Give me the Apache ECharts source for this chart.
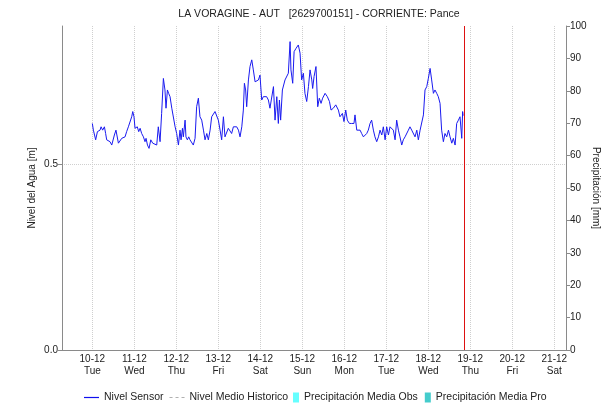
<!DOCTYPE html>
<html>
<head>
<meta charset="utf-8">
<script src="https://cdn.jsdelivr.net/npm/echarts@6/dist/echarts.min.js"></script>
<style>
  html, body { margin: 0; padding: 0; background: #fff; }
  #chart { width: 609px; height: 403px; }
</style>
</head>
<body>
<div id="chart"></div>
<script>
// Station header
const titleText = 'LA VORAGINE - AUT   [2629700151] - CORRIENTE: Pance';

// Time window (UTC) and day ticks
const viewStart = '2024-12-09T06:40:00Z';
const viewEnd = '2024-12-21T06:40:00Z';
const nowMark = '2024-12-18T20:48:00Z';
const seriesOrigin = '2024-12-10T00:00:00Z';
const dayTicks = ['2024-12-10', '2024-12-11', '2024-12-12', '2024-12-13', '2024-12-14', '2024-12-15',
                  '2024-12-16', '2024-12-17', '2024-12-18', '2024-12-19', '2024-12-20', '2024-12-21'];
const weekdayNames = ['Sun', 'Mon', 'Tue', 'Wed', 'Thu', 'Fri', 'Sat'];

// Left axis ticks (m)
const levelTicks = [0, 0.5];

// Sensor level: hours after seriesOrigin, water level in metres
const sensorHours = [
  0.0, 0.6, 1.9, 2.9, 4.4, 5.0, 5.9, 6.9, 7.6, 8.2, 10.1, 11.1, 12.6, 13.5, 14.9, 16.8, 17.7, 18.7, 19.6, 20.6,
  21.5, 22.5, 23.1, 23.8, 24.4, 25.7, 26.5, 27.3, 28.2, 29.2, 30.1, 30.7, 31.5, 32.4, 33.4, 34.5, 35.5, 36.8, 37.7, 38.7,
  39.6, 40.6, 41.5, 42.1, 42.9, 43.6, 44.4, 45.4, 46.3, 47.3, 48.2, 49.2, 50.1, 50.7, 51.5, 52.0, 53.0, 53.5, 54.3, 55.1,
  55.8, 56.8, 57.7, 58.7, 59.6, 60.6, 61.5, 62.5, 63.5, 64.4, 65.4, 66.3, 67.3, 68.2, 69.2, 70.1, 71.1, 72.0, 73.0, 73.9,
  74.9, 75.8, 76.8, 77.7, 78.7, 79.6, 80.6, 81.5, 82.5, 83.5, 84.4, 85.4, 86.3, 86.9, 87.6, 88.2, 89.2, 90.1, 91.1, 92.0,
  93.0, 93.9, 94.9, 95.8, 96.8, 97.7, 99.6, 100.6, 101.5, 102.5, 103.5, 104.4, 105.4, 106.3, 106.9, 107.6, 108.6, 110.1, 111.1, 112.0,
  113.0, 113.5, 114.5, 115.3, 116.4, 117.7, 118.7, 119.6, 120.6, 121.5, 122.5, 123.5, 124.4, 125.4, 125.9, 126.7, 127.8, 128.8, 129.7, 130.7,
  131.6, 133.0, 134.3, 135.5, 136.4, 137.7, 139.1, 140.6, 141.5, 142.9, 143.8, 144.8, 145.7, 146.9, 148.2, 149.5, 150.1, 151.1, 152.0, 153.0,
  153.9, 154.9, 155.8, 156.8, 157.7, 158.7, 159.6, 160.6, 161.5, 162.5, 163.5, 164.4, 165.4, 166.3, 167.3, 168.2, 169.2, 170.1, 171.1, 172.0,
  173.0, 173.9, 174.9, 175.8, 176.8, 177.7, 178.7, 179.6, 180.6, 181.5, 182.5, 183.5, 184.4, 185.4, 186.3, 187.3, 188.2, 189.2, 190.1, 191.1,
  192.0, 193.0, 193.9, 194.9, 195.8, 196.8, 197.7, 198.7, 199.6, 200.6, 201.5, 202.5, 203.5, 204.4, 205.4, 206.3, 207.3, 208.2, 209.2, 210.1,
  211.1, 211.6, 211.9
];
const sensorLevel = [
  0.609, 0.591, 0.565, 0.587, 0.591, 0.600, 0.591, 0.600, 0.582, 0.565, 0.560, 0.551, 0.578, 0.591, 0.556, 0.569, 0.565, 0.573, 0.587, 0.600,
  0.600, 0.627, 0.641, 0.627, 0.596, 0.600, 0.587, 0.596, 0.582, 0.573, 0.560, 0.569, 0.551, 0.542, 0.565, 0.556, 0.551, 0.551, 0.600, 0.560,
  0.636, 0.730, 0.699, 0.650, 0.699, 0.690, 0.681, 0.650, 0.645, 0.600, 0.582, 0.551, 0.591, 0.565, 0.596, 0.573, 0.618, 0.573, 0.565, 0.573,
  0.565, 0.560, 0.551, 0.569, 0.654, 0.677, 0.627, 0.618, 0.591, 0.565, 0.582, 0.565, 0.591, 0.627, 0.623, 0.641, 0.641, 0.618, 0.591, 0.565,
  0.627, 0.573, 0.573, 0.596, 0.600, 0.582, 0.600, 0.596, 0.600, 0.591, 0.573, 0.600, 0.645, 0.717, 0.699, 0.654, 0.726, 0.762, 0.780, 0.753,
  0.721, 0.726, 0.726, 0.739, 0.672, 0.681, 0.681, 0.672, 0.650, 0.650, 0.708, 0.618, 0.681, 0.609, 0.672, 0.618, 0.699, 0.726, 0.730, 0.744,
  0.829, 0.753, 0.717, 0.802, 0.811, 0.820, 0.798, 0.726, 0.744, 0.690, 0.668, 0.708, 0.753, 0.726, 0.703, 0.735, 0.762, 0.654, 0.677, 0.663,
  0.677, 0.690, 0.681, 0.668, 0.645, 0.650, 0.659, 0.645, 0.627, 0.636, 0.614, 0.645, 0.618, 0.609, 0.609, 0.609, 0.632, 0.591, 0.587, 0.591,
  0.582, 0.573, 0.578, 0.582, 0.591, 0.609, 0.618, 0.591, 0.573, 0.560, 0.573, 0.591, 0.578, 0.600, 0.565, 0.600, 0.578, 0.600, 0.605, 0.591,
  0.565, 0.618, 0.591, 0.573, 0.551, 0.565, 0.573, 0.569, 0.591, 0.600, 0.591, 0.587, 0.573, 0.591, 0.565, 0.591, 0.591, 0.632, 0.699, 0.708,
  0.730, 0.757, 0.726, 0.690, 0.699, 0.690, 0.681, 0.663, 0.591, 0.560, 0.582, 0.573, 0.591, 0.573, 0.556, 0.569, 0.551, 0.609, 0.618, 0.627,
  0.569, 0.641, 0.630
];

// Historic mean level and precipitation (no values in this window)
const historicLevel = [];
const precipObs = [];
const precipForecast = [];

const HOUR = 3600000;
const t0 = Date.parse(seriesOrigin);
const dayValues = dayTicks.map(d => Date.parse(d + 'T00:00:00Z'));
const sensorData = sensorHours.map((h, i) => [t0 + h * HOUR, sensorLevel[i]]);

const pad2 = n => (n < 10 ? '0' : '') + n;
const textColor = '#222';
const axisGray = '#8a8a8a';
const gridGray = '#cfcfcf';
const fontFamily = '"Liberation Sans", Arial, sans-serif';

// Legend glyphs: solid stroke, dashed stroke
const solidStroke = 'path://M0,0h15v1.2h-15z';
const dashedStroke = 'path://M0,0h3v1.2h-3zM6,0h3v1.2h-3zM12,0h3v1.2h-3z';

const chart = echarts.init(document.getElementById('chart'), null, { renderer: 'canvas' });

chart.setOption({
  animation: false,
  backgroundColor: '#fff',
  textStyle: { fontFamily: fontFamily },
  title: {
    text: titleText,
    left: 314,
    textAlign: 'center',
    top: 4,
    textStyle: { fontSize: 10.5, fontWeight: 'normal', color: textColor, fontFamily: fontFamily }
  },
  grid: { left: 62, right: 43, top: 26, bottom: 53, containLabel: false, outerBoundsMode: 'none' },
  legend: [
    {
      left: 84, top: 392, itemWidth: 15, itemHeight: 10, itemGap: 6, padding: 0,
      textStyle: { fontSize: 10.5, color: textColor, fontFamily: fontFamily },
      data: [
        { name: 'Nivel Sensor', icon: solidStroke },
        { name: 'Nivel Medio Historico', icon: dashedStroke }
      ]
    },
    {
      left: 293, top: 392, itemWidth: 6, itemHeight: 10, itemGap: 7, padding: 0,
      textStyle: { fontSize: 10.5, color: textColor, fontFamily: fontFamily },
      data: [
        { name: 'Precipitación Media Obs', icon: 'rect' },
        { name: 'Precipitación Media Pro', icon: 'rect' }
      ]
    }
  ],
  xAxis: [
    {
      type: 'value',
      position: 'bottom',
      min: Date.parse(viewStart),
      max: Date.parse(viewEnd),
      axisLine: { show: true, lineStyle: { color: '#555', type: 'dotted', width: 1 } },
      axisTick: { show: false, customValues: dayValues },
      splitLine: { show: true, lineStyle: { color: gridGray, type: 'dotted', width: 1 } },
      axisLabel: {
        customValues: dayValues,
        color: textColor,
        fontSize: 10,
        lineHeight: 12,
        margin: 3,
        fontFamily: fontFamily,
        formatter: v => {
          const d = new Date(v);
          return pad2(d.getUTCDate()) + '-' + pad2(d.getUTCMonth() + 1) + '\n' + weekdayNames[d.getUTCDay()];
        }
      }
    },
    {
      type: 'value',
      position: 'top',
      min: Date.parse(viewStart),
      max: Date.parse(viewEnd),
      axisLine: { show: true, lineStyle: { color: axisGray, width: 1 } },
      axisTick: { show: false },
      axisLabel: { show: false },
      splitLine: { show: false }
    }
  ],
  yAxis: [
    {
      type: 'value',
      position: 'left',
      min: 0,
      max: 0.871,
      name: 'Nivel del Agua [m]',
      nameLocation: 'middle',
      nameRotate: 90,
      nameGap: 25,
      nameMoveOverlap: false,
      nameTextStyle: { fontSize: 10, color: textColor, fontFamily: fontFamily },
      axisLine: { show: true, lineStyle: { color: axisGray, width: 1 } },
      axisTick: { show: true, length: 4, customValues: levelTicks, lineStyle: { color: axisGray } },
      axisLabel: {
        customValues: levelTicks, color: textColor, fontSize: 10, margin: 4, fontFamily: fontFamily,
        formatter: v => v.toFixed(1)
      },
      splitLine: { show: true, lineStyle: { color: gridGray, type: 'dotted', width: 1 } }
    },
    {
      type: 'value',
      position: 'right',
      min: 0,
      max: 100,
      interval: 10,
      name: 'Precipitación [mm]',
      nameLocation: 'middle',
      nameRotate: -90,
      nameGap: 25,
      nameMoveOverlap: false,
      nameTextStyle: { fontSize: 10, color: textColor, fontFamily: fontFamily },
      axisLine: { show: true, lineStyle: { color: axisGray, width: 1 } },
      axisTick: { show: true, length: 4, lineStyle: { color: axisGray } },
      axisLabel: { color: textColor, fontSize: 10, margin: 4, fontFamily: fontFamily },
      splitLine: { show: false }
    }
  ],
  series: [
    {
      name: 'Precipitación Media Obs',
      type: 'bar',
      xAxisIndex: 0,
      yAxisIndex: 1,
      itemStyle: { color: '#66ffff' },
      data: precipObs
    },
    {
      name: 'Precipitación Media Pro',
      type: 'bar',
      xAxisIndex: 0,
      yAxisIndex: 1,
      itemStyle: { color: '#44cccc' },
      data: precipForecast
    },
    {
      name: 'Nivel Medio Historico',
      type: 'line',
      xAxisIndex: 0,
      yAxisIndex: 0,
      symbol: 'none',
      itemStyle: { color: '#b0b0b0' },
      lineStyle: { color: '#b0b0b0', type: 'dashed', width: 1 },
      data: historicLevel
    },
    {
      name: 'Nivel Sensor',
      type: 'line',
      xAxisIndex: 0,
      yAxisIndex: 0,
      symbol: 'none',
      itemStyle: { color: '#1010ee' },
      lineStyle: { color: '#1a1af0', width: 1 },
      data: sensorData,
      markLine: {
        silent: true,
        symbol: ['none', 'none'],
        label: { show: false },
        itemStyle: { color: '#dd1111' },
        lineStyle: { color: '#dd1111', type: 'solid', width: 1 },
        data: [{ xAxis: Date.parse(nowMark), lineStyle: { color: '#dd1111', type: 'solid', width: 1 } }]
      }
    }
  ]
});
</script>
</body>
</html>
